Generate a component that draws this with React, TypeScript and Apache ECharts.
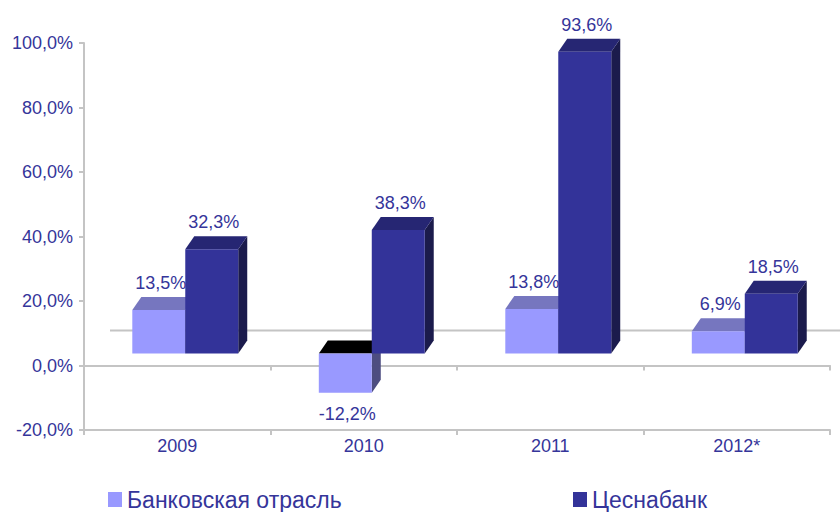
import React, { useEffect, useRef } from 'react';
import * as echarts from 'echarts';

const categories = ['2009', '2010', '2011', '2012*'];
const industryGrowth = [13.5, -12.2, 13.8, 6.9];
const tsesnabankGrowth = [32.3, 38.3, 93.6, 18.5];
const seriesNames = ['Банковская отрасль', 'Цеснабанк'];
const yMin = -20;
const yMax = 100;
const yInterval = 20;

const FONT = '"Liberation Sans", Arial, sans-serif';
const TEXT = '#35359a';
const AXIS = '#c4c4c4';

const palettes = [
  { front: '#9999ff', top: '#7676bf', side: '#4d4d80', neg: '#000000' },
  { front: '#333399', top: '#262673', side: '#1b1b4c', neg: '#000000' },
];

const fmt = (v: number) => v.toFixed(1).replace('.', ',') + '%';

function makeRender(si: number) {
  return (params: any, api: any) => {
    const idx = api.value(0);
    const val = api.value(1);
    const band = api.size([1, 0])[0];
    const w = band * 0.284;
    const shiftX = band * 0.043;
    const shiftY = -12;
    const dx = 9;
    const dy = -13;
    const p0 = api.coord([idx, 0]);
    const p1 = api.coord([idx, val]);
    const x0 = p0[0] + shiftX - (si === 0 ? w : 0);
    const yZero = p0[1] + shiftY;
    const yVal = p1[1] + shiftY;
    const yTop = Math.min(yZero, yVal);
    const yBot = Math.max(yZero, yVal);
    const pal = palettes[si];
    const side = {
      type: 'polygon',
      shape: { points: [[x0 + w, yTop], [x0 + w + dx, yTop + dy], [x0 + w + dx, yBot + dy], [x0 + w, yBot]] },
      style: { fill: pal.side },
    };
    const top = {
      type: 'polygon',
      shape: { points: [[x0, yTop], [x0 + dx, yTop + dy], [x0 + w + dx, yTop + dy], [x0 + w, yTop]] },
      style: { fill: val >= 0 ? pal.top : pal.neg },
    };
    const front = {
      type: 'rect',
      shape: { x: x0, y: yTop, width: w, height: yBot - yTop },
      style: { fill: pal.front },
    };
    const label = {
      type: 'text',
      x: x0 + w / 2 + 2,
      y: val >= 0 ? yTop + dy - 5 : yBot + 12,
      style: {
        text: fmt(val),
        fill: TEXT,
        fontSize: 18,
        fontFamily: FONT,
        align: 'center',
        verticalAlign: val >= 0 ? 'bottom' : 'top',
      },
    };
    return { type: 'group', children: [side, top, front, label] };
  };
}

export default function App() {
  const ref = useRef<HTMLDivElement>(null);
  useEffect(() => {
    if (!ref.current) return;
    const chart = echarts.init(ref.current, null, { renderer: 'svg' });
    const legendCommon = {
      orient: 'horizontal',
      top: 488,
      padding: 0,
      itemWidth: 14,
      itemHeight: 15,
      icon: 'rect',
      textStyle: { fontSize: 23, color: TEXT, fontFamily: FONT },
    };
    chart.setOption({
      animation: false,
      backgroundColor: '#ffffff',
      textStyle: { fontFamily: FONT },
      grid: { left: 84, right: 10, top: 43, bottom: 82, containLabel: false },
      legend: [
        { ...legendCommon, left: 108, data: [seriesNames[0]] },
        { ...legendCommon, left: 573, data: [seriesNames[1]] },
      ],
      xAxis: [
        {
          type: 'category',
          data: categories,
          position: 'bottom',
          axisLine: { onZero: false, lineStyle: { color: AXIS, width: 2 } },
          axisTick: { show: true, length: 5, lineStyle: { color: AXIS, width: 2 } },
          axisLabel: { fontSize: 18, color: TEXT, fontFamily: FONT, margin: 7 },
          splitLine: { show: false },
        },
        {
          type: 'category',
          data: categories,
          position: 'bottom',
          axisLine: { onZero: true, lineStyle: { color: AXIS, width: 2 } },
          axisTick: { show: true, length: 5, lineStyle: { color: AXIS, width: 2 } },
          axisLabel: { show: false },
          splitLine: { show: false },
        },
      ],
      yAxis: {
        type: 'value',
        min: yMin,
        max: yMax,
        interval: yInterval,
        axisLine: { show: true, lineStyle: { color: AXIS, width: 2 } },
        axisTick: { show: true, length: 5, lineStyle: { color: AXIS, width: 2 } },
        axisLabel: { fontSize: 18, color: TEXT, fontFamily: FONT, margin: 11, formatter: (v: number) => fmt(v) },
        splitLine: { show: false },
      },
      series: [
        {
          type: 'custom',
          name: 'backwall',
          clip: false,
          silent: true,
          data: [[0, 0]],
          renderItem: (params: any, api: any) => {
            const cs = params.coordSys;
            const y0 = api.coord([0, 0])[1] - 35;
            return {
              type: 'line',
              shape: { x1: cs.x + 26, y1: y0, x2: cs.x + cs.width + 26, y2: y0 },
              style: { stroke: AXIS, lineWidth: 2 },
            };
          },
        },
        {
          type: 'custom',
          name: seriesNames[0],
          clip: false,
          itemStyle: { color: palettes[0].front },
          data: industryGrowth.map((v, i) => [i, v]),
          renderItem: makeRender(0),
        },
        {
          type: 'custom',
          name: seriesNames[1],
          clip: false,
          itemStyle: { color: palettes[1].front },
          data: tsesnabankGrowth.map((v, i) => [i, v]),
          renderItem: makeRender(1),
        },
      ],
    });
    return () => chart.dispose();
  }, []);
  return (
    <div
      ref={ref}
      style={{ position: 'absolute', left: 0, top: 0, width: 840, height: 512, background: '#fff' }}
    />
  );
}
